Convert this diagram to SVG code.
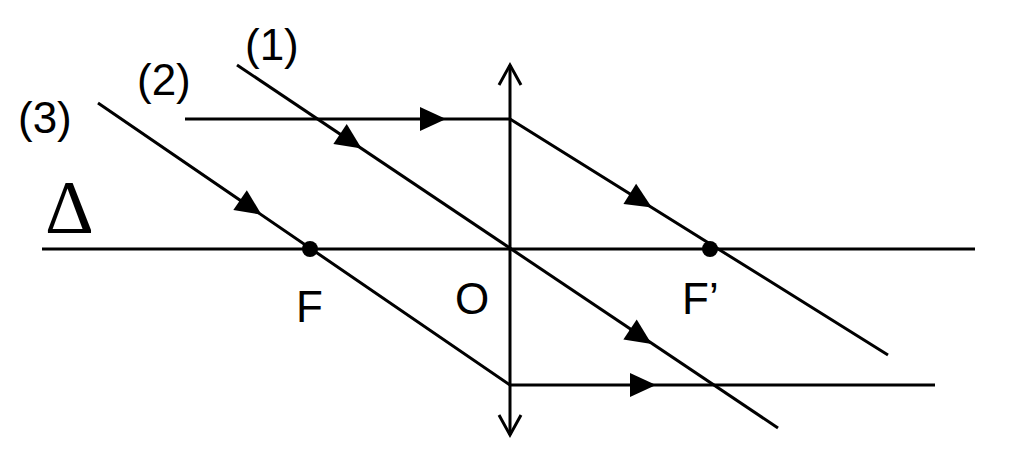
<svg xmlns="http://www.w3.org/2000/svg" width="1024" height="466" viewBox="0 0 1024 466">
<style>
.l{stroke:#000;stroke-width:3;fill:none}
.t{font-family:"Liberation Sans",Arial,sans-serif;font-size:44px;fill:#000}
</style>
<defs>
<marker id="a" viewBox="-20 -20 40 40" refX="0" refY="0" markerWidth="40" markerHeight="40" markerUnits="userSpaceOnUse" orient="auto" overflow="visible">
<path d="M-12,-12 L14,0 L-12,12 Z" fill="#000"/>
</marker>
</defs>
<g id="axis"><line class="l" x1="42" y1="249" x2="975" y2="249"/></g>
<g id="lens"><line class="l" x1="510" y1="65" x2="510" y2="435" stroke-width="4"/><polyline class="l" points="499,85 510,65 521,85"/><polyline class="l" points="499,415 510,435 521,415"/></g>
<g id="connectors">
<polyline class="l" points="185,119 510,119 888,355"/>
<line class="l" x1="237" y1="65" x2="778" y2="428"/>
<polyline class="l" points="98,103 510,385 935,385"/>
<path class="l" d="M420,119 L432,119" marker-end="url(#a)"/>
<path class="l" d="M630,194 L640,200.2" marker-end="url(#a)"/>
<path class="l" d="M340,134 L350,140.7" marker-end="url(#a)"/>
<path class="l" d="M630,329.5 L640,336.2" marker-end="url(#a)"/>
<path class="l" d="M240,200 L250,206.8" marker-end="url(#a)"/>
<path class="l" d="M630,385 L642,385" marker-end="url(#a)"/>
</g>
<g id="F"><circle cx="310" cy="249" r="8"/><text class="t" x="296" y="322">F</text></g>
<g id="O"><text class="t" x="455" y="314">O</text></g>
<g id="Fp"><circle cx="710" cy="249" r="8"/><text class="t" x="682" y="314">F’</text></g>
<g id="labels">
<text class="t" x="245" y="60">(1)</text>
<text class="t" x="137" y="95">(2)</text>
<text class="t" x="18" y="133">(3)</text>
<text x="45" y="233" style="font-family:'Liberation Serif',serif;font-size:76px">Δ</text>
</g>
</svg>
